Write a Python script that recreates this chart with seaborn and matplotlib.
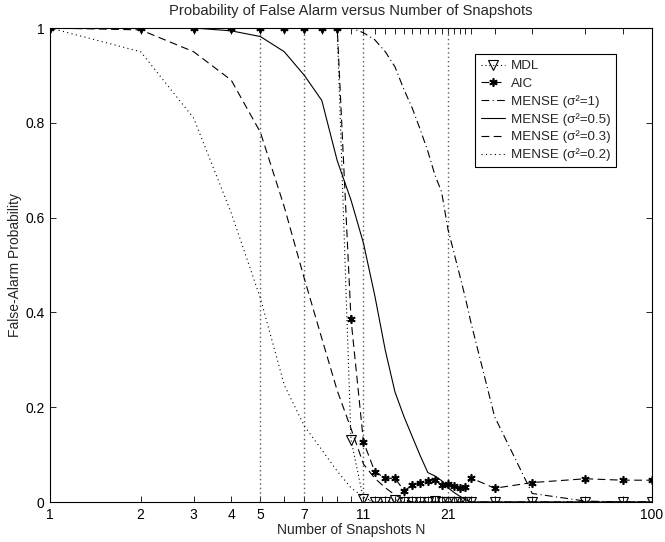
import matplotlib
matplotlib.use("Agg")
import matplotlib.pyplot as plt
import seaborn as sns
import numpy as np
import pandas as pd

# ---- data ----
N = [1, 2, 3, 4, 5, 6, 7, 8, 9, 10, 11, 12, 13, 14, 15, 16, 17, 18, 19, 20,
     21, 22, 23, 24, 25, 30, 40, 60, 80, 100]

mdl = [1, 1, 1, 1, 1, 1, 1, 1, 1, 0.131, 0.006, 0, 0, 0.005, 0, 0, 0, 0, 0.002, 0,
       0, 0, 0, 0, 0, 0, 0, 0, 0, 0]
aic = [1, 1, 1, 1, 1, 1, 1, 1, 1, 0.386, 0.127, 0.064, 0.050, 0.050, 0.024, 0.035,
       0.041, 0.045, 0.046, 0.036, 0.038, 0.034, 0.029, 0.031, 0.051, 0.029,
       0.041, 0.049, 0.046, 0.046]
mense_1 = [1, 1, 1, 1, 1, 1, 1, 1, 1, 1, 0.99, 0.975, 0.95, 0.918, 0.87, 0.83,
           0.785, 0.74, 0.69, 0.654, 0.575, 0.525, 0.477, 0.43, 0.38, 0.18,
           0.018, 0.002, 0, 0]
mense_05 = [1, 1, 1, 0.994, 0.982, 0.95, 0.90, 0.847, 0.72, 0.637, 0.546, 0.435,
            0.32, 0.232, 0.18, 0.137, 0.097, 0.062, 0.055, 0.045, 0.030, 0.020,
            0.012, 0.005, 0, 0, 0, 0, 0, 0]
mense_03 = [1, 0.996, 0.95, 0.89, 0.78, 0.623, 0.471, 0.345, 0.235, 0.155, 0.08,
            0.05, 0.03, 0.015, 0.005, 0, 0, 0, 0, 0, 0, 0, 0, 0, 0, 0, 0, 0, 0, 0]
mense_02 = [1, 0.95, 0.81, 0.61, 0.43, 0.247, 0.16, 0.11, 0.065, 0.03, 0.01,
            0, 0, 0, 0, 0, 0, 0, 0, 0, 0, 0, 0, 0, 0, 0, 0, 0, 0, 0]

vlines = [5, 7, 11, 21]
xtick_labels = {1: "1", 2: "2", 3: "3", 4: "4", 5: "5", 7: "7", 11: "11", 21: "21", 100: "100"}
yticks = [0, 0.2, 0.4, 0.6, 0.8, 1]
ytick_labels = ["0", "0.2", "0.4", "0.6", "0.8", "1"]

title = "Probability of False Alarm versus Number of Snapshots"
xlabel = "Number of Snapshots N"
ylabel = "False-Alarm Probability"

# ---- style ----
sns.set_style("white")
plt.rcParams["font.family"] = ["Liberation Sans", "DejaVu Sans"]

fig = plt.figure(figsize=(6.65, 5.42), dpi=100)
ax = fig.add_axes([50 / 665, 1 - 502 / 542, 602 / 665, 474 / 542])

lw = 0.8
for x in vlines:
    ax.axvline(x, color="0.35", linestyle=(0, (1, 2.2)), lw=1.0, zorder=1)

series = [
    ("MDL", mdl, dict(linestyle=(0, (1, 2.5)), marker="v", markersize=6.5,
                      markerfacecolor="none", markeredgecolor="k", markeredgewidth=0.8)),
    ("AIC", aic, dict(linestyle=(0, (7, 4)), marker=(6, 2, 0), markersize=6,
                      markeredgecolor="k", markeredgewidth=1.2)),
    ("MENSE (σ²=1)", mense_1, dict(linestyle=(0, (7, 3, 1, 3)))),
    ("MENSE (σ²=0.5)", mense_05, dict(linestyle="-")),
    ("MENSE (σ²=0.3)", mense_03, dict(linestyle=(0, (7, 4)))),
    ("MENSE (σ²=0.2)", mense_02, dict(linestyle=(0, (1, 3)))),
]

for name, vals, kw in series:
    df = pd.DataFrame({"N": N, "P": vals})
    sns.lineplot(data=df, x="N", y="P", ax=ax, color="k", lw=lw, label=name,
                 estimator=None, sort=False, **kw)

ax.set_xscale("log")
ax.set_xlim(1, 100)
ax.set_ylim(0, 1)

ax.set_xticks(N)
ax.set_xticklabels([xtick_labels.get(n, "") for n in N])
ax.xaxis.set_minor_locator(matplotlib.ticker.NullLocator())
ax.set_yticks(yticks)
ax.set_yticklabels(ytick_labels)
ax.tick_params(direction="in", length=4, width=0.6, top=True, right=True,
               bottom=True, left=True, labelsize=10, pad=4, colors="k")

for s in ax.spines.values():
    s.set_visible(True)
    s.set_color("k")
    s.set_linewidth(0.8)

ax.set_title(title, fontsize=10.6, pad=9)
ax.set_xlabel(xlabel, fontsize=10, labelpad=1)
ax.set_ylabel(ylabel, fontsize=10, labelpad=2)

leg = ax.legend(loc="upper right", bbox_to_anchor=(0.941, 0.945), fontsize=9.6,
                frameon=True, fancybox=False, edgecolor="k", framealpha=1,
                handlelength=1.8, borderpad=0.45, labelspacing=0.38,
                handletextpad=0.4, borderaxespad=0.0)
leg.get_frame().set_linewidth(0.8)

fig.savefig("out.png", dpi=100)
